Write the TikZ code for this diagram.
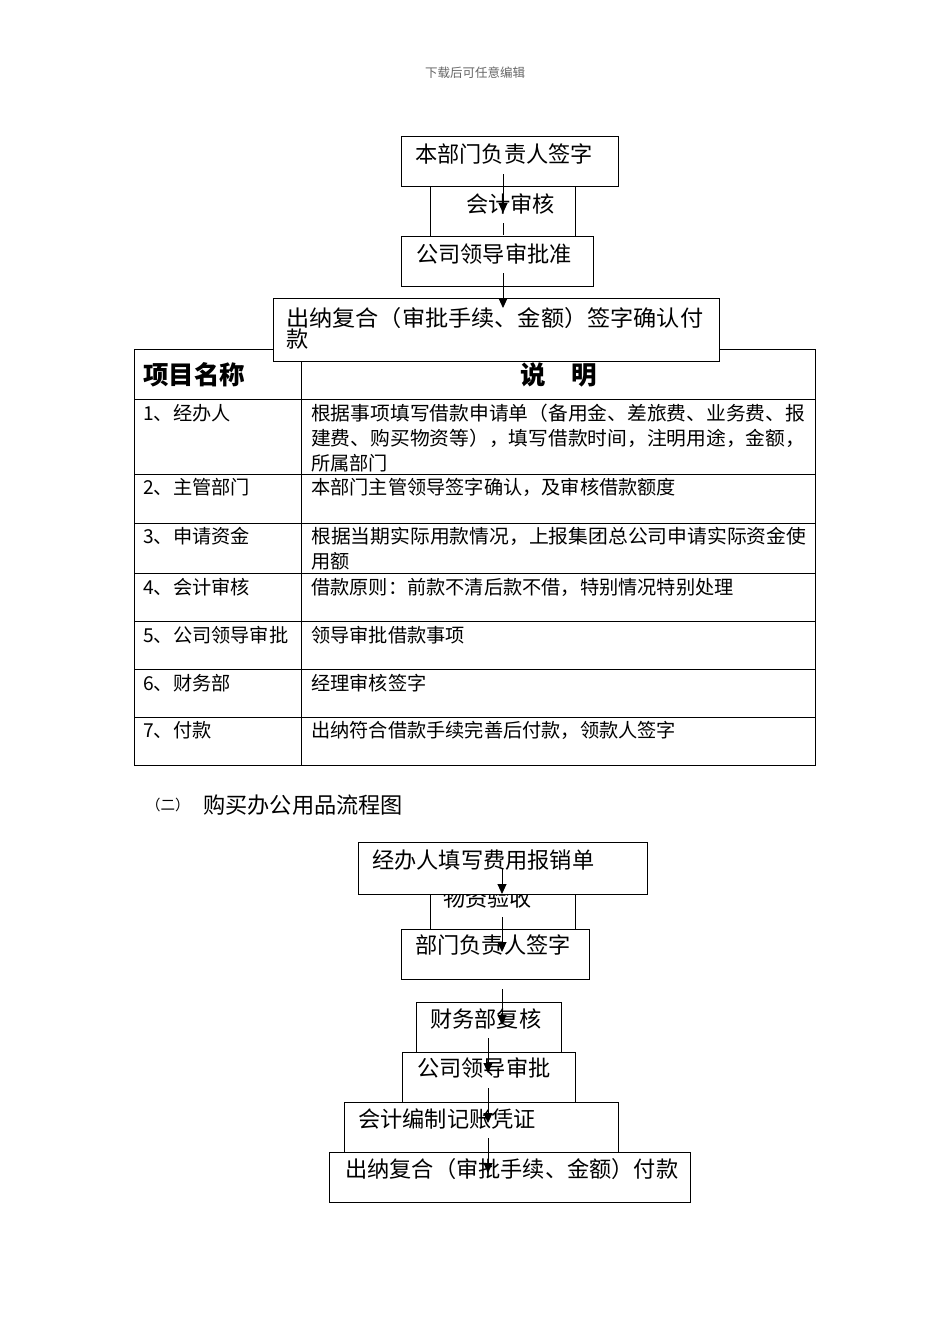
\documentclass[tikz,border=0pt]{standalone}
\usepackage{graphicx}
\usepackage{fontspec}
\setmainfont{Noto Sans CJK SC}
\usetikzlibrary{arrows.meta}
\newcommand\spreadto[2]{\resizebox{#1}{\height}{#2}}
\begin{document}
\begin{tikzpicture}[x=1pt,y=-1pt,
  box/.style={draw=black, fill=white, line width=0.9pt, anchor=north west, inner sep=0pt},
  txt/.style={anchor=base west, inner sep=0pt, font=\fontsize{22.2}{26}\selectfont},
  tbl/.style={anchor=base west, inner sep=0pt, font=\fontsize{19.2}{24}\selectfont},
  hdr/.style={anchor=base west, inner sep=0pt, font=\fontsize{25.5}{30}\selectfont\bfseries},
  arr/.style={line width=0.9pt, -{Triangle[length=10pt,width=9pt]}},
  seg/.style={line width=0.9pt},
  tline/.style={draw=black, line width=0.9pt}]
\fill[white] (0,0) rectangle (950,1344);
\useasboundingbox (0,0) rectangle (950,1344);

% page header
\node[anchor=base, inner sep=0pt, font=\fontsize{12.5}{14}\selectfont, text=black!60] (hd) at (475,77.8) {下载后可任意编辑};

% ---- top flow ----
\node[box, minimum width=145pt, minimum height=50pt] (b2) at (430,186) {};
\node[txt] (t2) at (466,212.4) {会计审核};
\node[box, minimum width=217pt, minimum height=50pt] (b1) at (401,136) {};
\node[txt] (t1) at (415,162.4) {本部门负责人签字};
\node[box, minimum width=192pt, minimum height=50pt] (b3) at (401,236) {};
\node[txt] (t3) at (416,262) {公司领导审批准};

% ---- table ----
\coordinate (tnw) at (134,349);
\coordinate (tse) at (815,765);
\draw[tline] (tnw) rectangle (tse);
\draw[tline] (301,349) -- (301,765);
\foreach \yy in {399,474.5,523,573,621,669,717} \draw[tline] (134,\yy) -- (815,\yy);

\node[hdr] (h1) at (143,384.7) {项目名称};
\node[hdr, anchor=base] (h2) at (559,384.7) {说　明};

\node[tbl] (r1) at (143,420.3) {1、经办人};
\node[tbl] (r1a) at (311,420.3) {\spreadto{494pt}{根据事项填写借款申请单（备用金、差旅费、业务费、报}};
\node[tbl] (r1b) at (311,445.3) {\spreadto{494pt}{建费、购买物资等），填写借款时间，注明用途，金额，}};
\node[tbl] (r1c) at (311,470.3) {所属部门};

\node[tbl] (r2) at (143,494.8) {2、主管部门};
\node[tbl] (r2a) at (311,494.8) {本部门主管领导签字确认，及审核借款额度};

\node[tbl] (r3) at (143,543.8) {3、申请资金};
\node[tbl] (r3a) at (311,543.8) {\spreadto{495pt}{根据当期实际用款情况，上报集团总公司申请实际资金使}};
\node[tbl] (r3b) at (311,568.8) {用额};

\node[tbl] (r4) at (143,594) {4、会计审核};
\node[tbl] (r4a) at (311,594) {借款原则：前款不清后款不借，特别情况特别处理};

\node[tbl] (r5) at (143,642) {5、公司领导审批};
\node[tbl] (r5a) at (311,642) {领导审批借款事项};

\node[tbl] (r6) at (143,690) {6、财务部};
\node[tbl] (r6a) at (311,690) {经理审核签字};

\node[tbl] (r7) at (143,737.5) {7、付款};
\node[tbl] (r7a) at (311,737.5) {出纳符合借款手续完善后付款，领款人签字};

% box 4 over the table
\node[box, minimum width=446pt, minimum height=63pt] (b4) at (273,298) {};
\node[txt] (t4a) at (286,326.4) {\spreadto{417pt}{出纳复合（审批手续、金额）签字确认付}};
\node[txt] (t4b) at (286,347.4) {款};

% top flow arrows
\coordinate (p1) at (503,174); \coordinate (p2) at (503,213);
\coordinate (p3) at (503,223); \coordinate (p4) at (503,235);
\coordinate (p5) at (503,273); \coordinate (p6) at (503,308);
\draw[arr] (p1) -- (p2);
\draw[seg] (p3) -- (p4);
\draw[arr] (p5) -- (p6);

% ---- section title ----
\node[anchor=base west, inner sep=0pt, font=\fontsize{14.5}{16}\selectfont] (s1) at (146,810.5) {（二）};
\node[txt] (s2) at (203,813.4) {购买办公用品流程图};

% ---- bottom flow ----
\node[box, minimum width=145pt, minimum height=35pt] (bB) at (430,894) {};
\node[txt] (tB) at (443,906.4) {物资验收};
\node[box, minimum width=289pt, minimum height=52pt] (bA) at (358,842) {};
\node[txt] (tA) at (372,868.4) {经办人填写费用报销单};
\node[box, minimum width=188pt, minimum height=50pt] (bC) at (401,929) {};
\node[txt] (tC) at (415,953.4) {部门负责人签字};
\node[box, minimum width=145pt, minimum height=50pt] (bD) at (416,1002) {};
\node[txt] (tD) at (430,1027.4) {财务部复核};
\node[box, minimum width=173pt, minimum height=50pt] (bE) at (402,1052) {};
\node[txt] (tE) at (417,1076.4) {公司领导审批};
\node[box, minimum width=274pt, minimum height=50pt] (bF) at (344,1102) {};
\node[txt] (tF) at (358,1127.4) {会计编制记账凭证};
\node[box, minimum width=361pt, minimum height=50pt] (bG) at (329,1152) {};
\node[txt] (tG) at (345,1177.4) {出纳复合（审批手续、金额）付款};

% bottom flow arrows
\coordinate (q1) at (502,868);  \coordinate (q2) at (502,894);
\coordinate (q3) at (502,917);  \coordinate (q4) at (502,952);
\coordinate (q5) at (502,989);  \coordinate (q6) at (502,1025);
\coordinate (q7) at (488,1038); \coordinate (q8) at (488,1073);
\coordinate (q9) at (488,1088); \coordinate (q10) at (488,1123);
\coordinate (q11) at (488,1138); \coordinate (q12) at (488,1173);
\draw[arr] (q1) -- (q2);
\draw[arr] (q3) -- (q4);
\draw[arr] (q5) -- (q6);
\draw[arr] (q7) -- (q8);
\draw[arr] (q9) -- (q10);
\draw[arr] (q11) -- (q12);
\end{tikzpicture}
\end{document}
